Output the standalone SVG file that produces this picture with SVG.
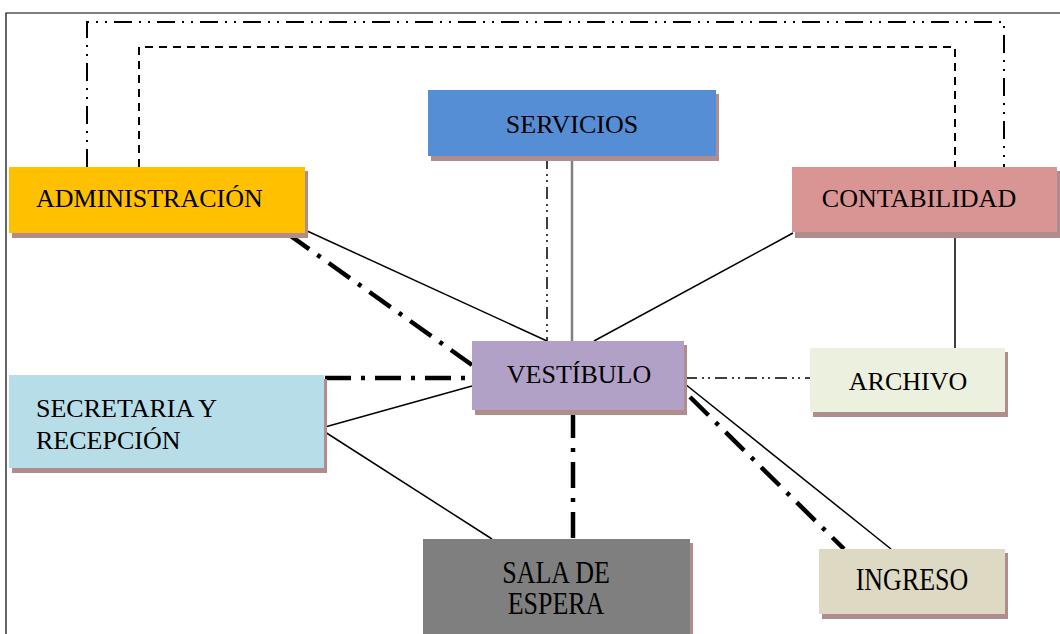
<svg xmlns="http://www.w3.org/2000/svg" width="1060" height="634" viewBox="0 0 1060 634">
<style>
.sh{fill:#b08c8c}
.t{font-family:"Liberation Serif","Times New Roman",serif;font-size:26px;fill:#000}
.thin{stroke:#000;stroke-width:1.5;fill:none}
.gray{stroke:#808080;stroke-width:2.5;fill:none}
.dd{stroke:#000;stroke-width:2;fill:none;stroke-dasharray:18 7 2 7 2 7}
.ddt{stroke:#000;stroke-width:1.5;fill:none;stroke-dasharray:12 5 2 4 2 5}
.dash{stroke:#000;stroke-width:2;fill:none;stroke-dasharray:8 6}
.thick{stroke:#000;stroke-width:4.5;fill:none;stroke-dasharray:26 10 4 10}
</style>
<rect width="1060" height="634" fill="#fff"/>
<path d="M6,634 V13 H1060" stroke="#000" stroke-width="1.2" fill="none"/>
<g id="connectors">
<path class="dd" d="M87,167 V22 H1004 V167"/>
<path class="dash" d="M139,167 V47 H955 V167"/>
<path class="thin" d="M955,232 V348"/>
<path class="thin" d="M305,230 L547,341"/>
<path class="thick" d="M288,234 L472,365"/>
<path class="gray" d="M572,157 V341"/>
<path class="ddt" d="M547,157 V341"/>
<path class="thin" d="M793,233 L594,341"/>
<path class="thick" d="M325,378 H472"/>
<path class="thin" d="M325,427 L472,386"/>
<path class="thin" d="M325,432 L492,539"/>
<path class="thick" d="M573,412 V539"/>
<path class="ddt" d="M685,378 H810"/>
<path class="thin" d="M685,384 L891,549"/>
<path class="thick" d="M690,397 L844,549"/>
</g>
<g id="administracion">
<rect class="sh" x="12" y="171" width="296" height="67"/>
<rect x="9" y="167" width="296" height="66" fill="#ffc000"/>
<text class="t" x="36" y="207">ADMINISTRACIÓN</text>
</g>
<g id="servicios">
<rect class="sh" x="431" y="94" width="288" height="67"/>
<rect x="428" y="90" width="288" height="66" fill="#558ed5"/>
<text class="t" x="572" y="133" text-anchor="middle">SERVICIOS</text>
</g>
<g id="contabilidad">
<rect class="sh" x="795" y="171" width="265" height="67"/>
<rect x="792" y="167" width="265" height="65" fill="#d99594"/>
<text class="t" x="919" y="207" text-anchor="middle">CONTABILIDAD</text>
</g>
<g id="vestibulo">
<rect class="sh" x="475" y="345" width="212" height="70"/>
<rect x="472" y="341" width="212" height="69" fill="#b2a1c7"/>
<text class="t" x="579" y="383" text-anchor="middle">VESTÍBULO</text>
</g>
<g id="archivo">
<rect class="sh" x="813" y="352" width="195" height="65"/>
<rect x="810" y="348" width="195" height="64" fill="#ebf1de"/>
<text class="t" x="908" y="390" text-anchor="middle">ARCHIVO</text>
</g>
<g id="secretaria">
<rect class="sh" x="12" y="379" width="315" height="94"/>
<rect x="9" y="375" width="315" height="93" fill="#b7dee8"/>
<text class="t" x="36" y="417">SECRETARIA Y</text>
<text class="t" x="36" y="449">RECEPCIÓN</text>
</g>
<g id="sala">
<rect class="sh" x="426" y="543" width="267" height="95"/>
<rect x="423" y="539" width="267" height="95" fill="#7f7f7f"/>
<text class="t" transform="translate(556,583) scale(1,1.18)" text-anchor="middle">SALA DE</text>
<text class="t" transform="translate(556,614) scale(1,1.18)" text-anchor="middle">ESPERA</text>
</g>
<g id="ingreso">
<rect class="sh" x="822" y="553" width="186" height="66"/>
<rect x="819" y="549" width="186" height="65" fill="#ddd9c3"/>
<text class="t" transform="translate(912,590) scale(1,1.18)" text-anchor="middle">INGRESO</text>
</g>
</svg>
